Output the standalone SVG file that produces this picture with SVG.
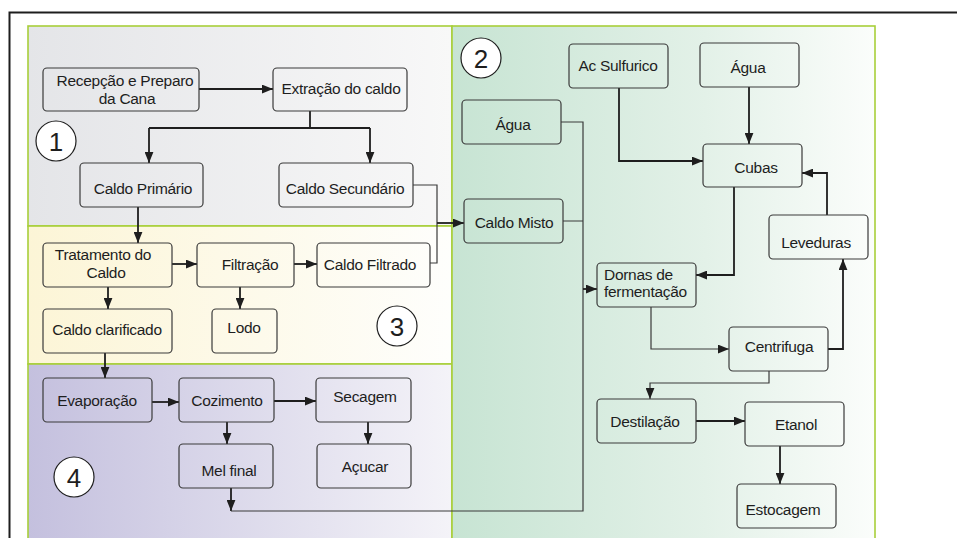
<svg xmlns="http://www.w3.org/2000/svg" width="957" height="538" viewBox="0 0 957 538">
<defs>
<linearGradient id="g1" gradientUnits="userSpaceOnUse" x1="28" y1="0" x2="452" y2="0"><stop offset="0" stop-color="#e4e5e8"/><stop offset="1" stop-color="#f8f8f8"/></linearGradient>
<linearGradient id="g3" gradientUnits="userSpaceOnUse" x1="28" y1="0" x2="452" y2="0"><stop offset="0" stop-color="#fcf5d6"/><stop offset="1" stop-color="#fefefc"/></linearGradient>
<linearGradient id="g4" gradientUnits="userSpaceOnUse" x1="28" y1="0" x2="452" y2="0"><stop offset="0" stop-color="#c4c0de"/><stop offset="1" stop-color="#f4f3f8"/></linearGradient>
<linearGradient id="g2" gradientUnits="userSpaceOnUse" x1="452" y1="0" x2="875" y2="0"><stop offset="0" stop-color="#c7e4d3"/><stop offset="0.6" stop-color="#e3f1e8"/><stop offset="1" stop-color="#fbfdfb"/></linearGradient>
<marker id="ah" viewBox="0 0 10 8" refX="10" refY="4" markerWidth="11" markerHeight="9" markerUnits="userSpaceOnUse" orient="auto"><path d="M0,0 L10,4 L0,8 z" fill="#1e1e1e"/></marker>
</defs>
<style>
.nd{stroke:#3a3a3a;stroke-width:1.2}
.t{font-family:"Liberation Sans",Arial,sans-serif;font-size:15.5px;letter-spacing:-0.3px;fill:#1e1e1e;text-anchor:middle}
.tl{text-anchor:start}
.c{fill:#ffffff;stroke:#1e1e1e;stroke-width:1.2}
.cn{font-family:"Liberation Sans",Arial,sans-serif;font-size:26px;fill:#1e1e1e;text-anchor:middle}
.k{fill:none;stroke:#1e1e1e;stroke-width:1.8}
.th{fill:none;stroke:#3a3a3a;stroke-width:1.2}
.a{marker-end:url(#ah)}
.pb{stroke:#a8cf3a;stroke-width:1.6}
</style>
<rect width="957" height="538" fill="#ffffff"/>
<g id="panels">
<rect x="28" y="26" width="424" height="200" fill="url(#g1)" class="pb"/>
<rect x="28" y="226" width="424" height="138" fill="url(#g3)" class="pb"/>
<rect x="28" y="364" width="424" height="190" fill="url(#g4)" class="pb"/>
<rect x="452" y="26" width="423" height="530" fill="url(#g2)" class="pb"/>
</g>
<path d="M9.5,545 V12.5 H960" fill="none" stroke="#1e1e1e" stroke-width="2"/>
<g id="labels">
<circle cx="56" cy="141" r="20" class="c"/><text x="56" y="151" class="cn">1</text>
<circle cx="481" cy="58" r="20" class="c"/><text x="481" y="68" class="cn">2</text>
<circle cx="397" cy="326" r="20" class="c"/><text x="397" y="336" class="cn">3</text>
<circle cx="74" cy="477" r="20" class="c"/><text x="74" y="487" class="cn">4</text>
</g>
<g id="connectors">
<path d="M199,89 H273" class="k a"/>
<path d="M310,111 V128 M149,128 H370" class="k"/>
<path d="M149,128 V163" class="k a"/>
<path d="M370,128 V163" class="k a"/>
<path d="M413,185 H437 V223" class="th"/>
<path d="M430,263 H437 V223" class="th"/>
<path d="M437,223 H464" class="k a"/>
<path d="M138,207 V243" class="k a"/>
<path d="M172,264 H197" class="k a"/>
<path d="M294,264 H317" class="k a"/>
<path d="M108,287 V309" class="k a"/>
<path d="M240,287 V309" class="k a"/>
<path d="M105,353 V378" class="k a"/>
<path d="M152,402 H179" class="k a"/>
<path d="M264,401 H316" class="k a"/>
<path d="M227,422 V444" class="k a"/>
<path d="M368,422 V444" class="k a"/>
<path d="M231,488 V511" class="k a"/>
<path d="M231,511 H583 V122 H561 M563,221 H583" class="th"/>
<path d="M583,289 H597" class="k a"/>
<path d="M619,88 V161 H703" class="k a"/>
<path d="M749,87 V144" class="k a"/>
<path d="M734,187 V275 H696" class="k a"/>
<path d="M827,215 V173 H802" class="k a"/>
<path d="M651,307 V349 H729" class="th a"/>
<path d="M828,349 H843 V259" class="k a"/>
<path d="M769,371 V383 H650 V399" class="th a"/>
<path d="M696,421 H745" class="k a"/>
<path d="M780,446 V484" class="k a"/>
</g>
<g id="n-recepcao"><rect x="43" y="68" width="156" height="43" rx="4" fill="url(#g1)" class="nd"/><text x="125" y="86" class="t">Recepção e Preparo</text><text x="127" y="104" class="t">da Cana</text></g>
<g id="n-extracao"><rect x="273" y="68" width="134" height="43" rx="4" fill="url(#g1)" class="nd"/><text x="341" y="94" class="t">Extração do caldo</text></g>
<g id="n-primario"><rect x="80" y="163" width="123" height="44" rx="4" fill="url(#g1)" class="nd"/><text x="143" y="194" class="t">Caldo Primário</text></g>
<g id="n-secundario"><rect x="279" y="163" width="134" height="44" rx="4" fill="url(#g1)" class="nd"/><text x="345" y="194" class="t">Caldo Secundário</text></g>
<g id="n-tratamento"><rect x="43" y="243" width="129" height="44" rx="4" fill="url(#g3)" class="nd"/><text x="103" y="260" class="t">Tratamento do</text><text x="106" y="278" class="t">Caldo</text></g>
<g id="n-filtracao"><rect x="197" y="243" width="97" height="44" rx="4" fill="url(#g3)" class="nd"/><text x="250" y="270" class="t">Filtração</text></g>
<g id="n-filtrado"><rect x="317" y="243" width="113" height="44" rx="4" fill="url(#g3)" class="nd"/><text x="370" y="270" class="t">Caldo Filtrado</text></g>
<g id="n-clarificado"><rect x="43" y="309" width="129" height="44" rx="4" fill="url(#g3)" class="nd"/><text x="107" y="335" class="t">Caldo clarificado</text></g>
<g id="n-lodo"><rect x="212" y="309" width="65" height="44" rx="4" fill="url(#g3)" class="nd"/><text x="244" y="333" class="t">Lodo</text></g>
<g id="n-evaporacao"><rect x="43" y="378" width="109" height="44" rx="4" fill="url(#g4)" class="nd"/><text x="97" y="406" class="t">Evaporação</text></g>
<g id="n-cozimento"><rect x="179" y="378" width="95" height="44" rx="4" fill="url(#g4)" class="nd"/><text x="227" y="406" class="t">Cozimento</text></g>
<g id="n-secagem"><rect x="316" y="378" width="95" height="44" rx="4" fill="url(#g4)" class="nd"/><text x="365" y="402" class="t">Secagem</text></g>
<g id="n-mel"><rect x="179" y="444" width="94" height="44" rx="4" fill="url(#g4)" class="nd"/><text x="229" y="476" class="t">Mel final</text></g>
<g id="n-acucar"><rect x="317" y="444" width="94" height="44" rx="4" fill="url(#g4)" class="nd"/><text x="365" y="472" class="t">Açucar</text></g>
<g id="n-sulfurico"><rect x="569" y="44" width="99" height="44" rx="4" fill="url(#g2)" class="nd"/><text x="618" y="71" class="t">Ac Sulfurico</text></g>
<g id="n-agua2"><rect x="700" y="43" width="99" height="44" rx="4" fill="url(#g2)" class="nd"/><text x="748" y="73" class="t">Água</text></g>
<g id="n-agua1"><rect x="462" y="100" width="99" height="44" rx="4" fill="url(#g2)" class="nd"/><text x="513" y="130" class="t">Água</text></g>
<g id="n-cubas"><rect x="703" y="144" width="99" height="43" rx="4" fill="url(#g2)" class="nd"/><text x="756" y="173" class="t">Cubas</text></g>
<g id="n-misto"><rect x="464" y="199" width="99" height="44" rx="4" fill="url(#g2)" class="nd"/><text x="514" y="228" class="t">Caldo Misto</text></g>
<g id="n-leveduras"><rect x="769" y="215" width="99" height="44" rx="4" fill="url(#g2)" class="nd"/><text x="816" y="248" class="t">Leveduras</text></g>
<g id="n-dornas"><rect x="597" y="263" width="99" height="44" rx="4" fill="url(#g2)" class="nd"/><text x="604" y="280" class="t tl">Dornas de</text><text x="604" y="297" class="t tl">fermentação</text></g>
<g id="n-centrifuga"><rect x="729" y="327" width="99" height="44" rx="4" fill="url(#g2)" class="nd"/><text x="779" y="352" class="t">Centrifuga</text></g>
<g id="n-destilacao"><rect x="597" y="399" width="99" height="44" rx="4" fill="url(#g2)" class="nd"/><text x="645" y="427" class="t">Destilação</text></g>
<g id="n-etanol"><rect x="745" y="402" width="99" height="44" rx="4" fill="url(#g2)" class="nd"/><text x="796" y="430" class="t">Etanol</text></g>
<g id="n-estocagem"><rect x="737" y="484" width="99" height="44" rx="4" fill="url(#g2)" class="nd"/><text x="783" y="515" class="t">Estocagem</text></g>
</svg>
